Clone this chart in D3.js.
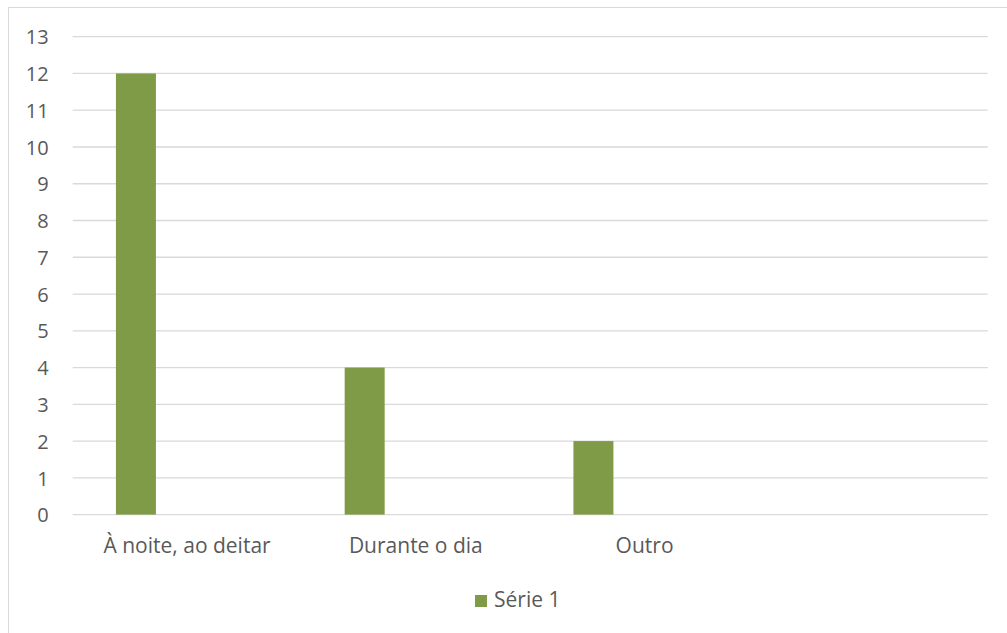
<!DOCTYPE html>
<html><head><meta charset="utf-8">
<script src="https://cdn.jsdelivr.net/npm/d3@7/dist/d3.min.js"></script>
<style>
html,body{margin:0;padding:0;background:#fff;}
svg{display:block;}
text{font-family:"Open Sans",sans-serif;fill:#595959;}
</style></head>
<body>
<script>
const categories = ["À noite, ao deitar", "Durante o dia", "Outro", ""];
const seriesNames = ["Série 1"];
const serie1 = [12, 4, 2, null];
const yTicks = [0,1,2,3,4,5,6,7,8,9,10,11,12,13];

(function(){
const W = 1007, H = 633;
const svg = d3.select("body").append("svg").attr("width", W).attr("height", H);

// outer chart border
svg.append("rect").attr("x", 8.5).attr("y", 7.5).attr("width", 1010).attr("height", 640)
  .attr("fill", "none").attr("stroke", "#d9d9d9").attr("stroke-width", 1);

const pLeft = 72.7, pRight = 987.7, pTop = 36.7, pBottom = 514.6;

const x0 = d3.scaleBand().domain(categories).range([pLeft, pRight]).paddingInner(0).paddingOuter(0);
const x1 = d3.scaleBand().domain(seriesNames).range([0, x0.bandwidth()])
  .paddingInner(0).paddingOuter(2.36).align(0.229);
const y = d3.scaleLinear().domain([0, 13]).range([pBottom, pTop]);

// gridlines
svg.append("g").selectAll("line").data(yTicks).join("line")
  .attr("x1", pLeft).attr("x2", pRight)
  .attr("y1", d => y(d)).attr("y2", d => y(d))
  .attr("stroke", "#d9d9d9").attr("stroke-width", 1.3);

// y axis labels
const yAxis = d3.axisLeft(y).tickValues(yTicks).tickSize(0).tickPadding(0);
const gy = svg.append("g").attr("transform", `translate(${pLeft - 24},0)`).call(yAxis);
gy.select(".domain").remove();
gy.selectAll("text").attr("font-size", 20).attr("font-family", "Open Sans").attr("fill", "#595959").attr("dy", "0.36em");

// bars
svg.append("g").selectAll("rect").data(categories.map((c, i) => ({c, v: serie1[i]})).filter(d => d.v != null))
  .join("rect")
  .attr("x", d => x0(d.c) + x1("Série 1"))
  .attr("width", x1.bandwidth())
  .attr("y", d => y(d.v))
  .attr("height", d => y(0) - y(d.v))
  .attr("fill", "#7f9b48");

// x axis labels
const xAxis = d3.axisBottom(x0).tickSize(0).tickPadding(0);
const gx = svg.append("g").attr("transform", `translate(0,${pBottom})`).call(xAxis);
gx.select(".domain").remove();
gx.selectAll("text").attr("font-size", 21).attr("font-family", "Open Sans").attr("fill", "#595959")
  .attr("dy", null).attr("y", 38);

// legend
const lg = svg.append("g").attr("transform", "translate(475,595)");
lg.append("rect").attr("width", 12).attr("height", 12).attr("fill", "#7f9b48");
lg.append("text").attr("x", 19).attr("y", 12).attr("font-size", 21).text(seriesNames[0]);
})();
</script>
</body></html>
